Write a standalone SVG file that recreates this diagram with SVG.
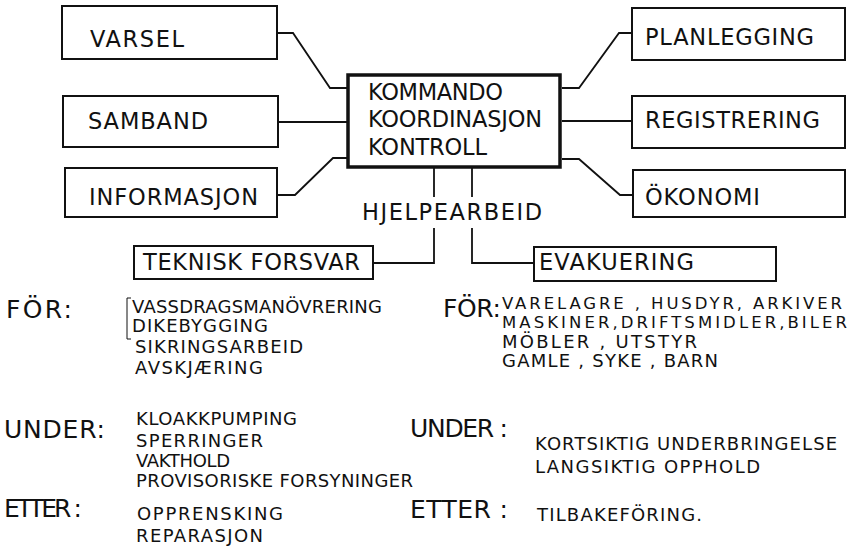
<svg xmlns="http://www.w3.org/2000/svg" width="854" height="556" viewBox="0 0 854 556">
<style>
  .box { fill: #fff; stroke: #111; stroke-width: 2; }
  .main { fill: #fff; stroke: #111; stroke-width: 3.5; }
  .con { fill: none; stroke: #111; stroke-width: 1.8; }
  text { font-family: "DejaVu Sans", "Liberation Sans", sans-serif; fill: #111; }
  .lbl { font-size: 22.5px; }
  .hd { font-size: 25px; }
  .it { font-size: 18px; }
  .it2 { font-size: 16.5px; }
</style>
<rect width="854" height="556" fill="#fff"/>
<g id="connectors">
  <polyline class="con" points="277,33 293,33 330,88 348,88"/>
  <polyline class="con" points="278,122 348,122"/>
  <polyline class="con" points="277,195 295,195 333,158 348,158"/>
  <polyline class="con" points="562,88 579,88 619,33 632,33"/>
  <polyline class="con" points="562,121 632,121"/>
  <polyline class="con" points="562,159 579,159 620,195 632,195"/>
  <line class="con" x1="434" y1="167" x2="434" y2="197"/>
  <polyline class="con" points="434,228 434,263 373,263"/>
  <line class="con" x1="472" y1="167" x2="472" y2="197"/>
  <polyline class="con" points="472,228 472,263 534,263"/>
</g>
<g id="varsel"><rect class="box" x="62" y="6" width="215" height="53"/><text class="lbl" x="90" y="47" textLength="94">VARSEL</text></g>
<g id="samband"><rect class="box" x="63" y="96" width="215" height="51"/><text class="lbl" x="88" y="129" textLength="120">SAMBAND</text></g>
<g id="informasjon"><rect class="box" x="65" y="168" width="212" height="49"/><text class="lbl" x="89" y="205" textLength="169">INFORMASJON</text></g>
<g id="kommando"><rect class="main" x="348" y="75" width="212" height="92"/>
  <text class="lbl" x="368" y="100" textLength="135">KOMMANDO</text>
  <text class="lbl" x="368" y="127" textLength="174">KOORDINASJON</text>
  <text class="lbl" x="368" y="155" textLength="119">KONTROLL</text></g>
<g id="planlegging"><rect class="box" x="632" y="8" width="213" height="52"/><text class="lbl" x="645" y="45" textLength="169">PLANLEGGING</text></g>
<g id="registrering"><rect class="box" x="632" y="96" width="213" height="52"/><text class="lbl" x="645" y="128" textLength="175">REGISTRERING</text></g>
<g id="okonomi"><rect class="box" x="633" y="170" width="212" height="47"/><text class="lbl" x="645" y="205" textLength="115">ÖKONOMI</text></g>
<g id="hjelpearbeid"><text class="lbl" x="362" y="220" textLength="180">HJELPEARBEID</text></g>
<g id="teknisk"><rect class="box" x="134" y="246" width="239" height="33"/><text class="lbl" x="143" y="270" textLength="217">TEKNISK FORSVAR</text></g>
<g id="evakuering"><rect class="box" x="534" y="247" width="242" height="34"/><text class="lbl" x="539" y="270" textLength="155">EVAKUERING</text></g>
<g id="teknisk-list">
  <text class="hd" x="6" y="318" textLength="66">FÖR:</text>
  <path d="M131,298 H127 V339 H131" fill="none" stroke="#111" stroke-width="1"/>
  <text class="it" x="132" y="313" textLength="250">VASSDRAGSMANÖVRERING</text>
  <text class="it" x="132" y="332" textLength="136">DIKEBYGGING</text>
  <text class="it" x="135" y="353" textLength="168">SIKRINGSARBEID</text>
  <text class="it" x="135" y="374" textLength="128">AVSKJÆRING</text>
  <text class="hd" x="4" y="438" textLength="101">UNDER:</text>
  <text class="it" x="136" y="425" textLength="161">KLOAKKPUMPING</text>
  <text class="it" x="136" y="447" textLength="127">SPERRINGER</text>
  <text class="it" x="136" y="467" textLength="94">VAKTHOLD</text>
  <text class="it" x="136" y="487" textLength="277">PROVISORISKE FORSYNINGER</text>
  <text class="hd" x="4" y="517" textLength="78">ETTER :</text>
  <text class="it" x="137" y="520" textLength="146">OPPRENSKING</text>
  <text class="it" x="136" y="542" textLength="127">REPARASJON</text>
</g>
<g id="evakuering-list">
  <text class="hd" x="443" y="317" textLength="58">FÖR:</text>
  <text class="it2" x="502" y="309" textLength="340">VARELAGRE , HUSDYR, ARKIVER</text>
  <text class="it2" x="502" y="328" textLength="345">MASKINER,DRIFTSMIDLER,BILER</text>
  <text class="it" x="502" y="348" textLength="195">MÖBLER , UTSTYR</text>
  <text class="it" x="502" y="367" textLength="216">GAMLE , SYKE , BARN</text>
  <text class="hd" x="410" y="437" textLength="98">UNDER :</text>
  <text class="it" x="535" y="450" textLength="302">KORTSIKTIG UNDERBRINGELSE</text>
  <text class="it" x="535" y="473" textLength="225">LANGSIKTIG OPPHOLD</text>
  <text class="hd" x="410" y="518" textLength="98">ETTER :</text>
  <text class="it" x="537" y="521" textLength="165">TILBAKEFÖRING.</text>
</g>
</svg>
